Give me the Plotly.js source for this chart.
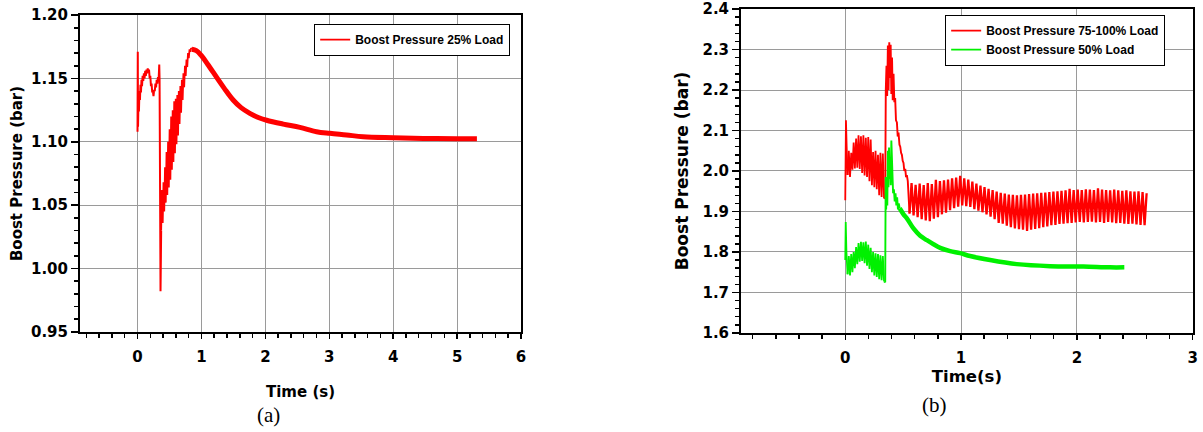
<!DOCTYPE html>
<html><head><meta charset="utf-8">
<script src="https://cdn.plot.ly/plotly-3.0.1.min.js"></script>
<style>html,body{margin:0;padding:0;background:#fff}#chart{width:1203px;height:432px}</style>
</head><body><div id="chart"></div>
<script>
// ---------- Panel (a): Boost Pressure 25% Load ----------
const a25_name = "Boost Pressure 25% Load";
const a25_t_start = [0, 0.004, 0.008, 0.015, 0.022, 0.030, 0.038, 0.046, 0.054, 0.062, 0.070, 0.080, 0.090, 0.100, 0.110, 0.120, 0.130, 0.140, 0.150, 0.160, 0.170, 0.180, 0.190, 0.200, 0.210, 0.220, 0.230, 0.240, 0.250, 0.260, 0.270, 0.280, 0.290, 0.300, 0.310, 0.320, 0.330, 0.340, 0.345, 0.350, 0.355, 0.360, 0.370];
const a25_p_start = [1.108, 1.171, 1.112, 1.132, 1.124, 1.140, 1.133, 1.145, 1.139, 1.149, 1.144, 1.152, 1.148, 1.154, 1.150, 1.156, 1.152, 1.157, 1.154, 1.158, 1.155, 1.157, 1.150, 1.152, 1.144, 1.146, 1.139, 1.140, 1.136, 1.141, 1.140, 1.146, 1.143, 1.149, 1.146, 1.151, 1.149, 1.161, 1.150, 1.060, 1.010, 0.982, 1.030];
const a25_osc_t0 = 0.37, a25_osc_dt = 0.012;
const a25_p_osc = [1.030, 1.062, 1.036, 1.068, 1.045, 1.080, 1.052, 1.092, 1.058, 1.100,
                   1.064, 1.110, 1.070, 1.120, 1.078, 1.125, 1.084, 1.132, 1.091, 1.134,
                   1.098, 1.137, 1.105, 1.140, 1.114, 1.144, 1.123, 1.149, 1.133, 1.154,
                   1.143, 1.160, 1.152, 1.165, 1.159, 1.170, 1.166, 1.173, 1.171, 1.174, 1.173];
const a25_t_decay = [0.850, 0.920, 1.000, 1.100, 1.236, 1.360, 1.496, 1.620, 1.757, 1.900, 2.020, 2.280, 2.540, 2.800, 3.010, 3.270, 3.530, 4.000, 4.470, 4.990, 5.310];
const a25_p_decay = [1.173, 1.172, 1.168, 1.161, 1.151, 1.142, 1.133, 1.127, 1.1225, 1.119, 1.117, 1.114, 1.1114, 1.108, 1.1067, 1.1054, 1.104, 1.1032, 1.1027, 1.1025, 1.1025];

// ---------- Panel (b): Boost Pressure 75-100% Load ----------
const b100_name = "Boost Pressure 75-100% Load";
const b100_t_start = [0, 0.006, 0.012, 0.020];
const b100_p_start = [1.928, 2.125, 2.060, 1.990];
const b100_osc1_t0 = 0.020, b100_osc1_dt = 0.0105;
const b100_p_osc1 = [1.990, 2.050, 1.985, 2.045, 2.003, 2.070, 2.006, 2.080, 2.008, 2.088,
                     2.005, 2.086, 1.995, 2.088, 1.989, 2.082, 1.985, 2.084, 1.975, 2.078,
                     1.965, 2.047, 1.960, 2.050, 1.955, 2.040, 1.940, 2.045, 1.936, 2.043, 1.932];
const b100_t_peak = [0.335, 0.345, 0.350, 0.356, 0.362, 0.368, 0.374, 0.380, 0.386, 0.392, 0.398, 0.404, 0.410, 0.417, 0.424, 0.431, 0.438, 0.446, 0.453, 0.460, 0.468, 0.475, 0.482, 0.489, 0.496, 0.503, 0.510, 0.518, 0.525, 0.532, 0.540, 0.555];
const b100_p_peak = [1.932, 1.935, 2.200, 2.260, 2.185, 2.310, 2.200, 2.318, 2.230, 2.312, 2.190, 2.280, 2.175, 2.240, 2.170, 2.180, 2.125, 2.120, 2.085, 2.095, 2.065, 2.060, 2.045, 2.040, 2.025, 2.020, 2.000, 2.005, 1.985, 1.990, 1.975, 1.895];
const b100_osc2_t0 = 0.555, b100_osc2_dt = 0.0175;
const b100_p_osc2 = [1.895, 1.970, 1.890, 1.966, 1.886, 1.969, 1.881, 1.965, 1.878, 1.970,
                     1.876, 1.968, 1.882, 1.978, 1.886, 1.975, 1.893, 1.977, 1.897, 1.979,
                     1.903, 1.982, 1.908, 1.984, 1.912, 1.988, 1.915, 1.982, 1.913, 1.979,
                     1.911, 1.974, 1.906, 1.969, 1.902, 1.964, 1.898, 1.960, 1.893, 1.956,
                     1.887, 1.953, 1.881, 1.949, 1.872, 1.946, 1.870, 1.944, 1.865, 1.942,
                     1.861, 1.941, 1.858, 1.940, 1.856, 1.941, 1.855, 1.942, 1.852, 1.943,
                     1.855, 1.944, 1.857, 1.945, 1.859, 1.946, 1.861, 1.947, 1.863, 1.948,
                     1.866, 1.949, 1.867, 1.950, 1.869, 1.951, 1.870, 1.952, 1.871, 1.956,
                     1.872, 1.953, 1.873, 1.954, 1.874, 1.953, 1.873, 1.955, 1.874, 1.954,
                     1.875, 1.953, 1.873, 1.957, 1.874, 1.954, 1.872, 1.953, 1.874, 1.952,
                     1.873, 1.954, 1.871, 1.952, 1.872, 1.951, 1.870, 1.952, 1.869, 1.950,
                     1.870, 1.949, 1.868, 1.950, 1.867, 1.948, 1.866, 1.945];

// ---------- Panel (b): Boost Pressure 50% Load ----------
const g50_name = "Boost Pressure 50% Load";
const g50_t_start = [0, 0.004, 0.010, 0.020];
const g50_p_start = [1.780, 1.874, 1.800, 1.745];
const g50_osc_t0 = 0.020, g50_osc_dt = 0.0105;
const g50_p_osc = [1.745, 1.790, 1.742, 1.795, 1.750, 1.800, 1.760, 1.812, 1.770, 1.822,
                   1.776, 1.825, 1.778, 1.824, 1.772, 1.826, 1.766, 1.818, 1.758, 1.810,
                   1.750, 1.800, 1.742, 1.797, 1.738, 1.795, 1.733, 1.792, 1.730, 1.790, 1.727];
const g50_t_peak = [0.335, 0.345, 0.349, 0.353, 0.358, 0.363, 0.368, 0.373, 0.378, 0.383, 0.388, 0.393, 0.398, 0.403, 0.408, 0.413, 0.420, 0.427, 0.434, 0.441, 0.448, 0.455, 0.462, 0.470];
const g50_p_peak = [1.727, 1.725, 1.985, 1.905, 1.975, 1.915, 2.050, 1.960, 2.058, 1.980, 2.030, 1.965, 2.075, 2.000, 1.960, 1.945, 1.955, 1.925, 1.945, 1.915, 1.935, 1.905, 1.920, 1.908];
const g50_t_decay = [0.470, 0.503, 0.532, 0.589, 0.647, 0.705, 0.762, 0.820, 0.906, 0.992, 1.078, 1.251, 1.481, 1.769, 2.056, 2.286, 2.410];
const g50_p_decay = [1.908, 1.893, 1.883, 1.858, 1.840, 1.829, 1.819, 1.810, 1.802, 1.797, 1.790, 1.780, 1.770, 1.765, 1.764, 1.762, 1.762];

// ---------- Axis ticks ----------
const a_xticks = [0, 1, 2, 3, 4, 5, 6];
const a_yticks = [0.95, 1.00, 1.05, 1.10, 1.15, 1.20];
const b_xticks = [0, 1, 2, 3];
const b_yticks = [1.6, 1.7, 1.8, 1.9, 2.0, 2.1, 2.2, 2.3, 2.4];

// ---------- Styles ----------
const RED = '#ff0000', GREEN = '#00f000';
const tickFont = {family: 'DejaVu Sans, Arial, sans-serif', size: 15, weight: 'bold', color: '#000'};
const legFont = {family: 'Arial, Liberation Sans, sans-serif', size: 12, weight: 'bold', color: '#000'};

function seg(x, y, color, width, xa, ya, opts) {
  return Object.assign({type: 'scatter', mode: 'lines', x: x, y: y,
    line: {color: color, width: width}, xaxis: xa, yaxis: ya, showlegend: false, hoverinfo: 'skip'}, opts || {});
}
function oscSeg(t0, dt, y, color, width, xa, ya, opts) {
  return Object.assign({type: 'scatter', mode: 'lines', x0: t0, dx: dt, y: y,
    line: {color: color, width: width}, xaxis: xa, yaxis: ya, showlegend: false, hoverinfo: 'skip'}, opts || {});
}

const traces = [
  // (a)
  seg(a25_t_start, a25_p_start, RED, 2, 'x', 'y', {legendgroup: 'a25'}),
  oscSeg(a25_osc_t0, a25_osc_dt, a25_p_osc, RED, 1.8, 'x', 'y', {legendgroup: 'a25', name: a25_name, showlegend: true, legend: 'legend'}),
  seg(a25_t_decay, a25_p_decay, RED, 5, 'x', 'y', {legendgroup: 'a25', line: {color: RED, width: 5, shape: 'spline'}}),
  // (b) red
  seg(b100_t_start, b100_p_start, RED, 1.8, 'x2', 'y2', {legendgroup: 'b100'}),
  oscSeg(b100_osc1_t0, b100_osc1_dt, b100_p_osc1, RED, 1.8, 'x2', 'y2', {legendgroup: 'b100', name: b100_name, showlegend: true, legend: 'legend2'}),
  seg(b100_t_peak, b100_p_peak, RED, 1.9, 'x2', 'y2', {legendgroup: 'b100'}),
  oscSeg(b100_osc2_t0, b100_osc2_dt, b100_p_osc2, RED, 2.3, 'x2', 'y2', {legendgroup: 'b100'}),
  // (b) green
  seg(g50_t_start, g50_p_start, GREEN, 1.8, 'x2', 'y2', {legendgroup: 'g50'}),
  oscSeg(g50_osc_t0, g50_osc_dt, g50_p_osc, GREEN, 1.8, 'x2', 'y2', {legendgroup: 'g50', name: g50_name, showlegend: true, legend: 'legend2'}),
  seg(g50_t_peak, g50_p_peak, GREEN, 1.9, 'x2', 'y2', {legendgroup: 'g50'}),
  seg(g50_t_decay, g50_p_decay, GREEN, 4.5, 'x2', 'y2', {legendgroup: 'g50', line: {color: GREEN, width: 4.5, shape: 'spline'}})
];

function xAxis(domain, range, ticks, anchor, titleText, titleSize, standoff) {
  return {
    domain: domain, range: range, anchor: anchor,
    tickmode: 'array', tickvals: ticks, ticktext: ticks.map(String),
    ticks: 'outside', ticklen: 5, tickwidth: 1.5, tickcolor: '#000',
    minor: {dtick: 0.2, tick0: 0, ticks: 'outside', ticklen: 4, tickwidth: 1.5, tickcolor: '#000', showgrid: false},
    showgrid: true, gridcolor: '#9a9a9a', gridwidth: 1, zeroline: false,
    showline: true, linecolor: '#000', linewidth: 2, mirror: true,
    tickfont: tickFont, ticklabelstandoff: 5, ticklabeloverflow: 'allow',
    title: {text: titleText, font: {family: 'DejaVu Sans, Arial, sans-serif', size: titleSize, weight: 'bold', color: '#000'}, standoff: standoff},
    fixedrange: true
  };
}
function yAxis(domain, range, ticks, fmt, minorDt, anchor, titleText, titleSize, standoff) {
  return {
    domain: domain, range: range, anchor: anchor,
    tickmode: 'array', tickvals: ticks, ticktext: ticks.map(v => v.toFixed(fmt)),
    ticks: 'outside', ticklen: 7, tickwidth: 1.5, tickcolor: '#000',
    minor: {dtick: minorDt, tick0: ticks[0], ticks: 'outside', ticklen: 4, tickwidth: 1.5, tickcolor: '#000', showgrid: false},
    showgrid: true, gridcolor: '#9a9a9a', gridwidth: 1, zeroline: false,
    showline: true, linecolor: '#000', linewidth: 2, mirror: true,
    tickfont: tickFont, ticklabeloverflow: 'allow',
    title: {text: titleText, font: {family: 'DejaVu Sans, Arial, sans-serif', size: titleSize, weight: 'bold', color: '#000'}, standoff: standoff},
    fixedrange: true
  };
}

const layout = {
  width: 1203, height: 432,
  margin: {l: 0, r: 0, t: 0, b: 0},
  paper_bgcolor: '#fff', plot_bgcolor: '#fff',
  xaxis: xAxis([0.0665, 0.4331], [-0.9, 6.0001], a_xticks, 'y', 'Time (s)', 15, 22),
  yaxis: yAxis([0.2315, 0.9653], [0.9499, 1.2001], a_yticks, 2, 0.01, 'x', 'Boost Pressure (bar)', 15, 5),
  xaxis2: xAxis([0.6160, 0.9914], [-0.9, 3.0001], b_xticks, 'y2', 'Time(s)', 16.5, 2),
  yaxis2: yAxis([0.2292, 0.9792], [1.5999, 2.4001], b_yticks, 1, 0.02, 'x2', 'Boost Pressure (bar)', 17, 10),
  legend: {x: 0.261, y: 0.9444, xanchor: 'left', yanchor: 'top', bgcolor: '#fff', bordercolor: '#000', borderwidth: 1.2, font: legFont, traceorder: 'normal'},
  legend2: {x: 0.7855, y: 0.9653, xanchor: 'left', yanchor: 'top', bgcolor: '#fff', bordercolor: '#000', borderwidth: 1.2, font: legFont, traceorder: 'normal'},
  annotations: [
    {text: '(a)', xref: 'paper', yref: 'paper', x: 0.2228, y: 0.040, xanchor: 'center', yanchor: 'middle', showarrow: false,
     font: {family: 'Liberation Serif, Times New Roman, serif', size: 21, color: '#000'}},
    {text: '(b)', xref: 'paper', yref: 'paper', x: 0.7772, y: 0.062, xanchor: 'center', yanchor: 'middle', showarrow: false,
     font: {family: 'Liberation Serif, Times New Roman, serif', size: 21, color: '#000'}}
  ],
  showlegend: true
};

Plotly.newPlot('chart', traces, layout, {staticPlot: true, displayModeBar: false});
</script></body></html>
